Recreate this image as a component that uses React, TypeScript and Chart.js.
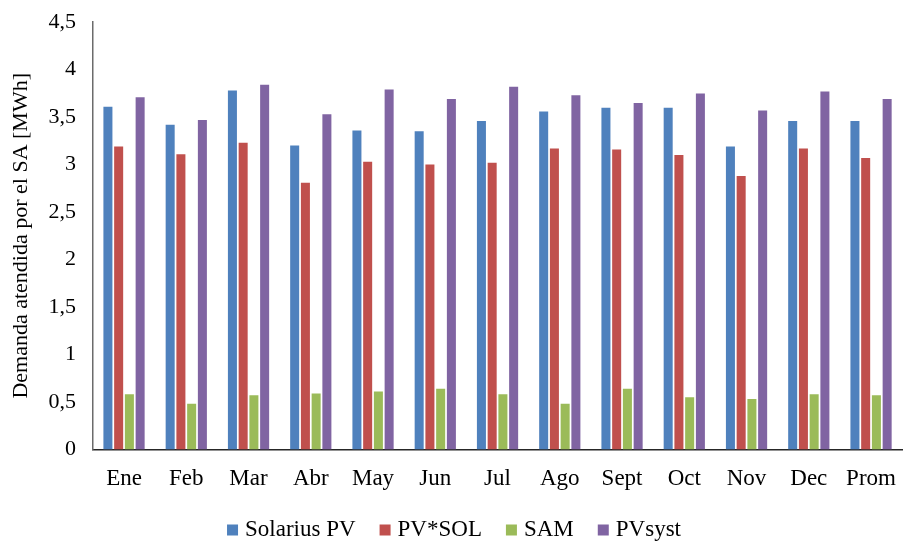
import React, { useEffect, useRef } from "react";
import { Chart, registerables } from "chart.js";

Chart.register(...registerables);

const categories = ["Ene", "Feb", "Mar", "Abr", "May", "Jun", "Jul", "Ago", "Sept", "Oct", "Nov", "Dec", "Prom"];
const solariusPV = [3.61, 3.42, 3.78, 3.2, 3.36, 3.35, 3.46, 3.56, 3.6, 3.6, 3.19, 3.46, 3.46];
const pvSol = [3.19, 3.11, 3.23, 2.81, 3.03, 3.0, 3.02, 3.17, 3.16, 3.1, 2.88, 3.17, 3.07];
const sam = [0.58, 0.48, 0.57, 0.59, 0.61, 0.64, 0.58, 0.48, 0.64, 0.55, 0.53, 0.58, 0.57];
const pvsyst = [3.71, 3.47, 3.84, 3.53, 3.79, 3.69, 3.82, 3.73, 3.65, 3.75, 3.57, 3.77, 3.69];
const seriesNames = ["Solarius PV", "PV*SOL", "SAM", "PVsyst"];
const seriesColors = ["#4F81BD", "#C0504D", "#9BBB59", "#8064A2"];
const yTitle = "Demanda atendida por el SA [MWh]";

const FONT = "'Liberation Serif', 'Times New Roman', serif";

const bottomLegend = {
  id: "bottomLegend",
  afterDraw(chart: any) {
    const ctx = chart.ctx as CanvasRenderingContext2D;
    ctx.save();
    ctx.font = `23px ${FONT}`;
    ctx.textBaseline = "alphabetic";
    ctx.textAlign = "left";
    const box = 11;
    const gapBoxText = 7;
    const gapItems = 24;
    const items = chart.data.datasets.map((ds: any) => ({
      label: ds.label as string,
      color: ds.backgroundColor as string,
      w: ctx.measureText(ds.label).width,
    }));
    const total =
      items.reduce((s: number, it: any) => s + box + gapBoxText + it.w, 0) + gapItems * (items.length - 1);
    let x = chart.width / 2 + 2 - total / 2;
    const baseline = chart.height - 7.5;
    for (const it of items) {
      ctx.fillStyle = it.color;
      ctx.fillRect(x, baseline - box, box, box);
      x += box + gapBoxText;
      ctx.fillStyle = "#000";
      ctx.fillText(it.label, x, baseline);
      x += it.w + gapItems;
    }
    ctx.restore();
  },
};

export default function App() {
  const ref = useRef<HTMLCanvasElement | null>(null);
  useEffect(() => {
    if (!ref.current) return;
    Chart.defaults.font.family = FONT;
    const values = [solariusPV, pvSol, sam, pvsyst];
    const chart = new Chart(ref.current, {
      type: "bar",
      data: {
        labels: categories,
        datasets: seriesNames.map((name, i) => ({
          label: name,
          data: values[i],
          backgroundColor: seriesColors[i],
          borderWidth: 0,
          barPercentage: 0.84,
          categoryPercentage: 0.69,
        })),
      },
      plugins: [bottomLegend],
      options: {
        animation: false,
        responsive: true,
        maintainAspectRatio: false,
        layout: { padding: { left: 8, right: 1, top: -3, bottom: 42 } },
        plugins: {
          tooltip: { enabled: false },
          legend: { display: false },
        },
        scales: {
          x: {
            grid: { display: false },
            border: { display: true, color: "#262626", width: 1.5 },
            ticks: { color: "#000", font: { family: FONT, size: 23 }, padding: 8, maxRotation: 0 },
          },
          y: {
            min: 0,
            max: 4.5,
            grid: { display: false },
            border: { display: true, color: "#6b6b6b", width: 1.5 },
            ticks: {
              stepSize: 0.5,
              color: "#000",
              font: { family: FONT, size: 22 },
              padding: 9,
              callback: (v: any) => String(v).replace(".", ","),
            },
            title: {
              display: true,
              text: yTitle,
              color: "#000",
              font: { family: FONT, size: 22 },
              padding: { top: 0, bottom: 5 },
            },
          },
        },
      },
    });
    return () => chart.destroy();
  }, []);
  return (
    <div style={{ position: "fixed", left: 0, top: 0, width: 904, height: 543, background: "#fff" }}>
      <canvas ref={ref} />
    </div>
  );
}
